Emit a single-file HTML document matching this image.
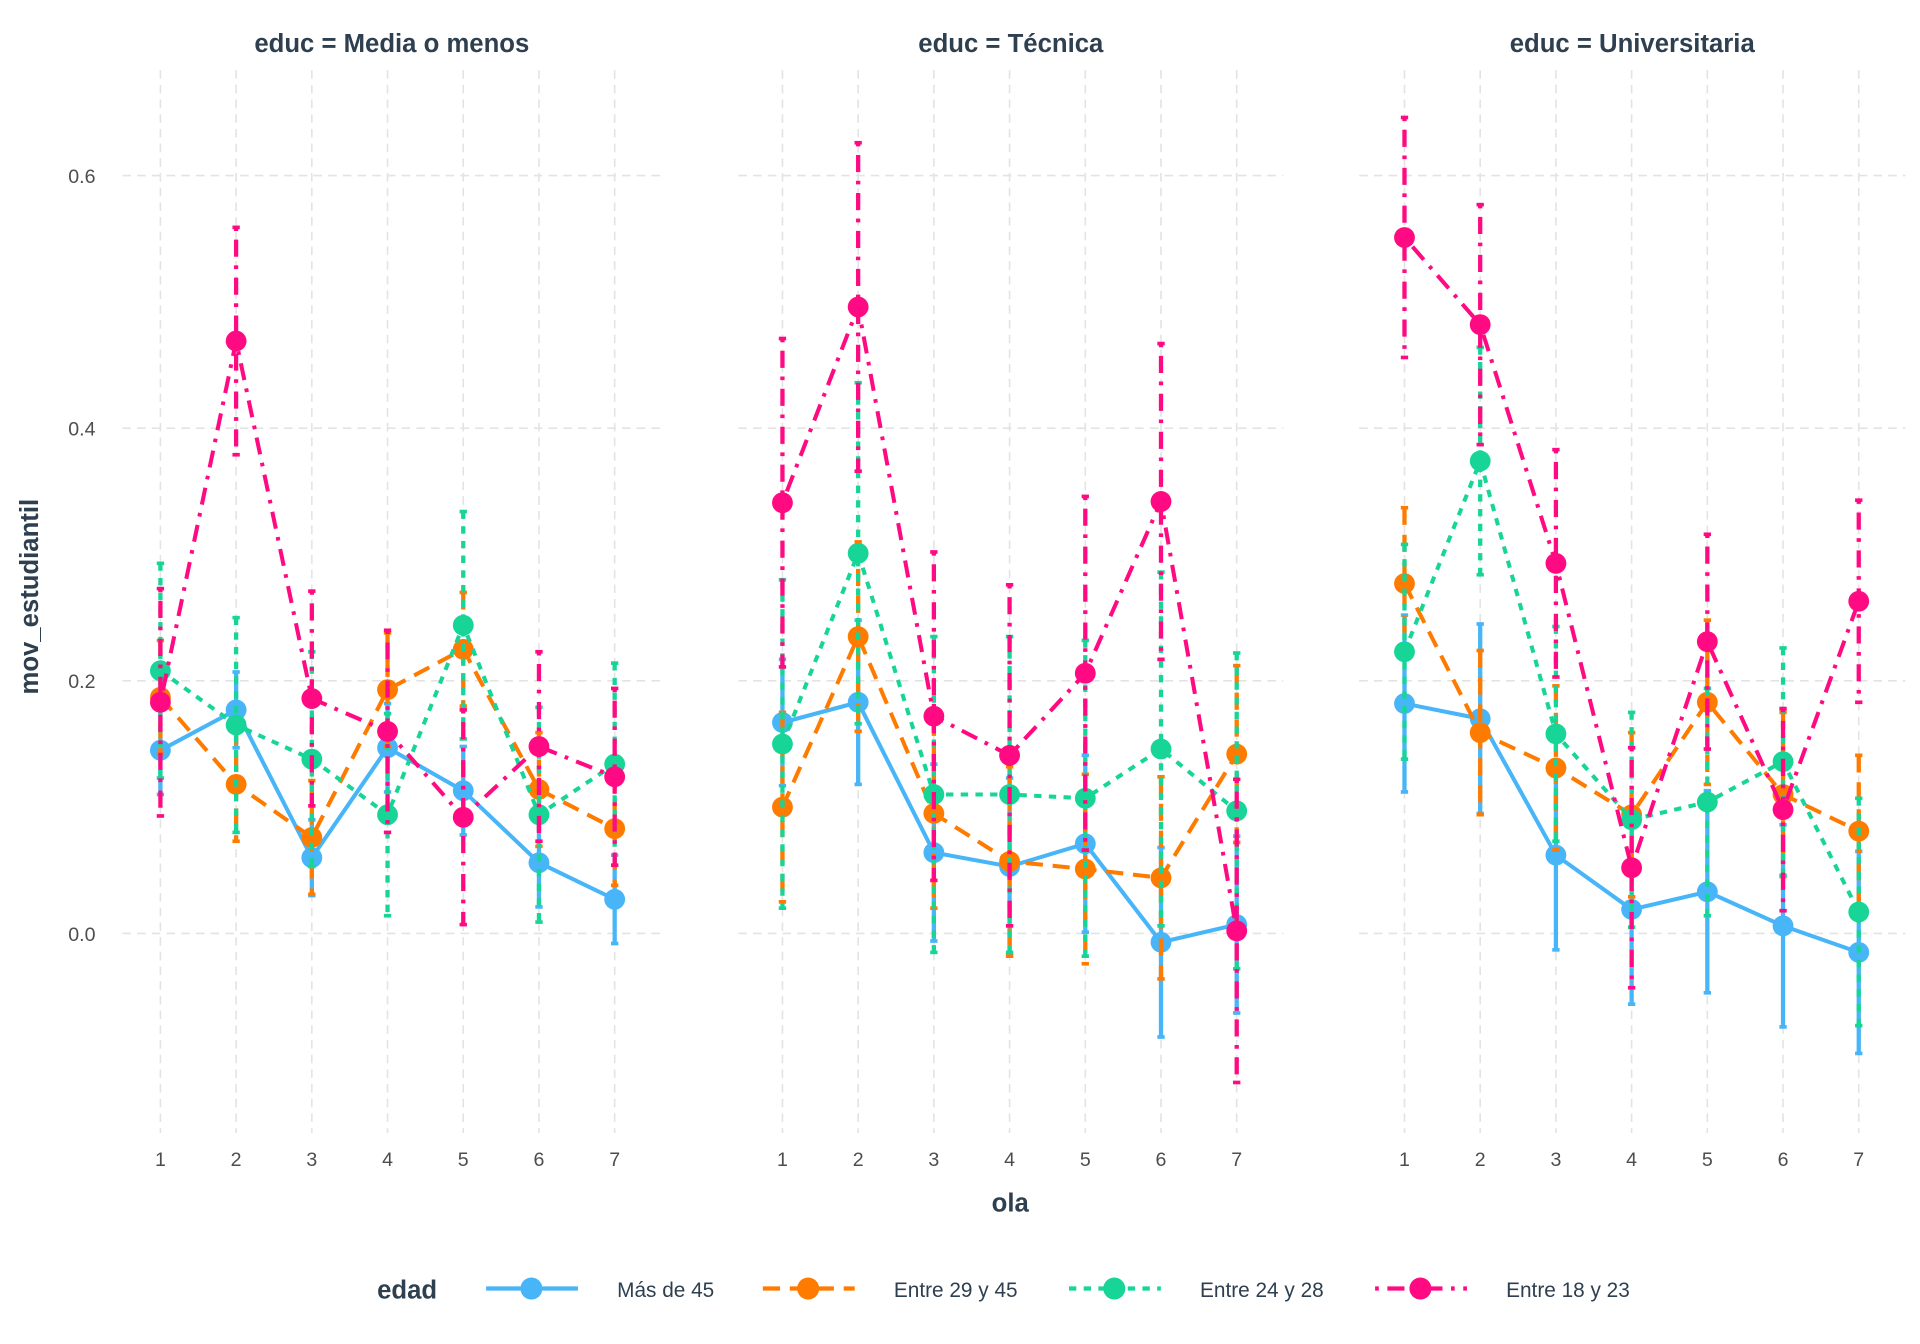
<!DOCTYPE html>
<html><head><meta charset="utf-8"><style>
html,body{margin:0;padding:0;background:#fff;}
svg{display:block;font-family:"Liberation Sans",Arial,sans-serif;}
</style></head><body>
<svg id="chart" width="1920" height="1344" viewBox="0 0 1568 1097" xmlns="http://www.w3.org/2000/svg">
<rect width="1568" height="1097" fill="#fff"/>
<g id="grid"></g><g id="marks"></g><g id="labels"></g>
</svg>
<script>
const panels = ["educ = Media o menos","educ = Técnica","educ = Universitaria"];
const olas = [1,2,3,4,5,6,7];
const yTicks = [0.0,0.2,0.4,0.6];
const yTickLabels = ["0.0","0.2","0.4","0.6"];
const seriesNames = ["Más de 45","Entre 29 y 45","Entre 24 y 28","Entre 18 y 23"];
// values per panel
const blueVals = [[0.145,0.177,0.060,0.147,0.113,0.056,0.027],[0.167,0.183,0.064,0.053,0.071,-0.007,0.007],[0.182,0.170,0.062,0.019,0.033,0.006,-0.015]];
const orangeVals = [[0.187,0.118,0.076,0.193,0.225,0.114,0.083],[0.100,0.235,0.095,0.057,0.051,0.044,0.142],[0.277,0.159,0.131,0.094,0.183,0.110,0.081]];
const greenVals = [[0.208,0.165,0.138,0.094,0.244,0.094,0.134],[0.150,0.301,0.110,0.110,0.107,0.146,0.097],[0.223,0.374,0.158,0.090,0.104,0.136,0.017]];
const pinkVals = [[0.183,0.469,0.186,0.160,0.092,0.148,0.124],[0.341,0.496,0.172,0.141,0.206,0.342,0.002],[0.551,0.482,0.293,0.052,0.231,0.098,0.263]];
// error half-widths
const blueErr = [[0.035,0.03,0.03,0.035,0.035,0.035,0.035],[0.05,0.065,0.07,0.07,0.07,0.075,0.07],[0.07,0.075,0.075,0.075,0.08,0.08,0.08]];
const orangeErr = [[0.045,0.045,0.045,0.045,0.045,0.045,0.045],[0.075,0.075,0.075,0.075,0.075,0.08,0.07],[0.06,0.065,0.065,0.065,0.065,0.065,0.06]];
const greenErr = [[0.085,0.085,0.085,0.08,0.09,0.085,0.08],[0.13,0.135,0.125,0.125,0.125,0.14,0.125],[0.085,0.09,0.085,0.085,0.09,0.09,0.09]];
const pinkErr = [[0.09,0.09,0.085,0.08,0.085,0.075,0.07],[0.13,0.13,0.13,0.135,0.14,0.125,0.12],[0.095,0.095,0.09,0.095,0.085,0.08,0.08]];

const ns="http://www.w3.org/2000/svg";
const colors=["#47b5f7","#ff7b00","#17d597","#ff0a82"];
const dashes=["","14,8","6,6","3,7,14,7"];
const panelX0=[131,639,1147];
const step=61.83;
const panelL=[100,603,1110], panelR=[540,1048,1556];
function xs(p,o){return panelX0[p]+(o-1)*step;}
function ys(v){return 762-v*1031.5;}
function mk(tag,attrs,parent){const e=document.createElementNS(ns,tag);for(const k in attrs)e.setAttribute(k,attrs[k]);parent.appendChild(e);return e;}
const grid=document.getElementById('grid'),marks=document.getElementById('marks'),labels=document.getElementById('labels');
const allVals=[blueVals,orangeVals,greenVals,pinkVals], allErr=[blueErr,orangeErr,greenErr,pinkErr];
for(let p=0;p<3;p++){
  yTicks.forEach(t=>{const l=mk('line',{x1:panelL[p],x2:panelR[p],y1:ys(t),y2:ys(t),stroke:'#e3e3e3','stroke-width':1.3,'stroke-dasharray':'7,5'},grid);
    });
  olas.forEach(o=>{const l=mk('line',{x1:xs(p,o),x2:xs(p,o),y1:57,y2:925,stroke:'#e3e3e3','stroke-width':1.3,'stroke-dasharray':'7,5'},grid);
    
    const t=mk('text',{x:xs(p,o),y:952,'text-anchor':'middle','font-size':16,fill:'#4d4d4d'},labels);t.textContent=o;
    });
  const st=mk('text',{x:(panelL[p]+panelR[p])/2,y:42,'text-anchor':'middle','font-size':21,'font-weight':'bold',fill:'#2e3f50'},labels);
  st.textContent=panels[p];
  for(let s=0;s<4;s++){
    const v=allVals[s][p],e=allErr[s][p];
    const g=mk('g',{},marks);
    olas.forEach((o,i)=>{const x=xs(p,o);
      const eb=mk('line',{x1:x,x2:x,y1:ys(v[i]+e[i]),y2:ys(v[i]-e[i]),stroke:colors[s],'stroke-width':3.5,'stroke-dasharray':dashes[s]},g);
      
      [v[i]+e[i],v[i]-e[i]].forEach(c=>{const cap=mk('line',{x1:x-3,x2:x+3,y1:ys(c),y2:ys(c),stroke:colors[s],'stroke-width':3},g);
        });
    });
    const pl=mk('polyline',{points:olas.map((o,i)=>xs(p,o)+','+ys(v[i])).join(' '),fill:'none',stroke:colors[s],'stroke-width':3.3,'stroke-dasharray':dashes[s]},g);
    
    olas.forEach((o,i)=>{const c=mk('circle',{cx:xs(p,o),cy:ys(v[i]),r:8.5,fill:colors[s]},g);
      });
  }
}
yTicks.forEach((t,i)=>{const tx=mk('text',{x:78,y:ys(t)+6,'text-anchor':'end','font-size':16,fill:'#4d4d4d'},labels);tx.textContent=yTickLabels[i];
  });
const xt=mk('text',{x:825,y:989,'text-anchor':'middle','font-size':21,'font-weight':'bold',fill:'#2e3f50'},labels);xt.textContent='ola';

const yt=mk('text',{x:0,y:0,'text-anchor':'middle','font-size':21,'font-weight':'bold',fill:'#2e3f50',transform:'translate(31,487) rotate(-90)'},labels);yt.textContent='mov_estudiantil';

const lt=mk('text',{x:308,y:1060,'font-size':21,'font-weight':'bold',fill:'#2e3f50'},labels);lt.textContent='edad';

const legX=[397,623,873,1123];
seriesNames.forEach((n,s)=>{const g=mk('g',{},labels);
  mk('line',{x1:legX[s],x2:legX[s]+75,y1:1052,y2:1052,stroke:colors[s],'stroke-width':3.5,'stroke-dasharray':dashes[s]},g);
  mk('circle',{cx:legX[s]+37,cy:1052,r:9,fill:colors[s]},g);
  const t=mk('text',{x:legX[s]+107,y:1059,'font-size':17,fill:'#2e3f50'},g);t.textContent=n;});
</script>
</body></html>
